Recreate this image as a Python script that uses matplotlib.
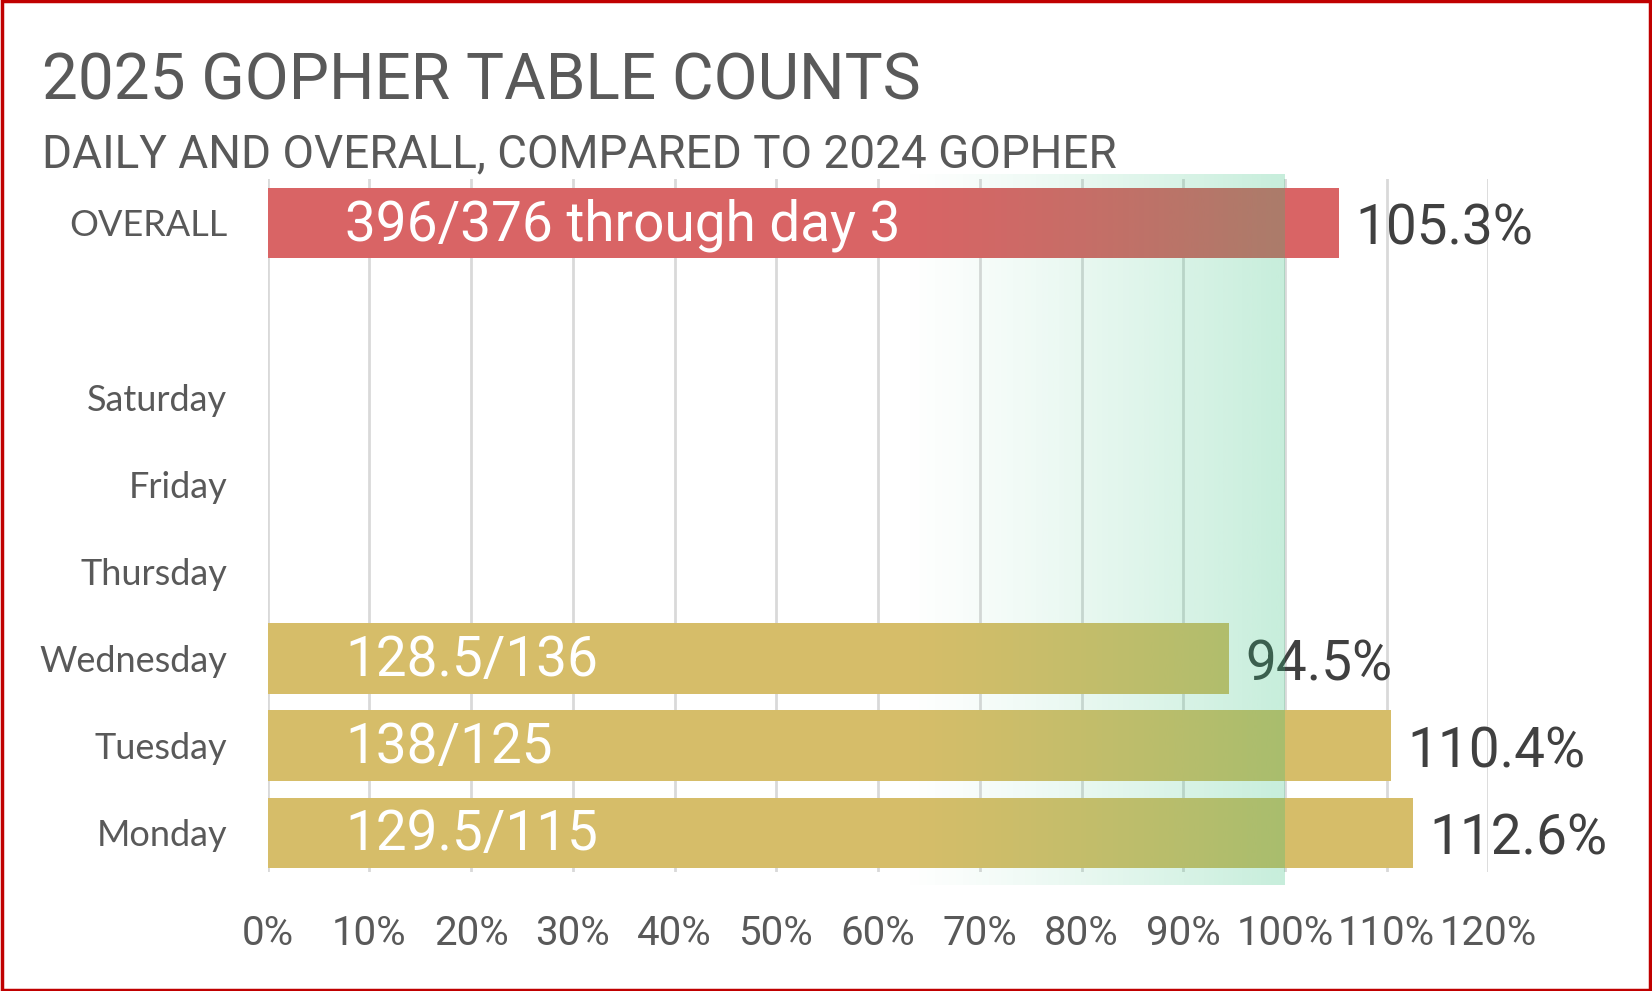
import numpy as np
import matplotlib
matplotlib.use('Agg')
import matplotlib.pyplot as plt
from matplotlib.patches import Rectangle
from matplotlib.colors import to_rgb

# ── Data ──────────────────────────────────────────────────────
categories = ['Monday', 'Tuesday', 'Wednesday', 'Thursday', 'Friday', 'Saturday', '', 'OVERALL']
pct_values = [112.6, 110.4, 94.5, None, None, None, None, 105.3]
bar_texts  = ['129.5/115', '138/125', '128.5/136', '', '', '', '', '396/376 through day 3']
pct_labels = ['112.6%', '110.4%', '94.5%', '', '', '', '', '105.3%']
x_ticks    = [0, 10, 20, 30, 40, 50, 60, 70, 80, 90, 100, 110, 120]

# ── Colours ───────────────────────────────────────────────────
RED    = '#D96465'
GOLD   = '#D6BD69'
GRID   = '#D9D9D9'
TITLE  = '#595959'
LABEL  = '#404040'
MINT   = '#2EBF7A'
BORDER = '#C00000'

fig = plt.figure(figsize=(16.52, 9.91), dpi=100, facecolor='white')
ax = fig.add_axes([0.162, 0.120, 0.739, 0.699])

ypos = np.arange(len(categories))
for y, v, t, lab in zip(ypos, pct_values, bar_texts, pct_labels):
    if v is None:
        continue
    col = RED if categories[y] == 'OVERALL' else GOLD
    ax.barh(y, v, height=0.81, color=col, zorder=2)
    ax.text(7.6, y - 0.2, t, color='white', fontsize=39.5, family='Roboto',
            va='baseline', ha='left', zorder=3)
    ax.text(v + 1.6, y - 0.25, lab, color=LABEL, fontsize=39.5, family='Roboto',
            va='baseline', ha='left', zorder=3)

# ── Target zone gradient (fades in toward 100%) ───────────────
ncol = 256
grad = np.zeros((1, ncol, 4))
grad[..., :3] = to_rgb(MINT)
grad[0, :, 3] = np.linspace(0, 1, ncol) ** 1.2 * 0.27
ax.imshow(grad, extent=(62, 100, -0.6, 7.55), aspect='auto',
          interpolation='bilinear', zorder=4, clip_on=False)

# ── Axes formatting ───────────────────────────────────────────
ax.set_xlim(0, 120)
ax.set_ylim(-0.45, 7.5)
ax.set_xticks(x_ticks)
ax.set_xticklabels([f'{t}%' for t in x_ticks], family='Roboto', fontsize=29, color=TITLE)
ax.set_yticks(ypos)
ax.set_yticklabels(categories, family='Lato', fontsize=26, color=TITLE)
ax.tick_params(axis='both', length=0)
ax.tick_params(axis='x', pad=30)
ax.tick_params(axis='y', pad=29)
ax.grid(axis='x', color=GRID, linewidth=2, zorder=1)
ax.set_axisbelow(True)
for s in ax.spines.values():
    s.set_visible(False)

# ── Titles ────────────────────────────────────────────────────
fig.text(0.0255, 0.900, '2025 GOPHER TABLE COUNTS', family='Roboto',
         fontsize=46, color=TITLE, va='baseline')
fig.text(0.0255, 0.831, 'DAILY AND OVERALL, COMPARED TO 2024 GOPHER', family='Roboto',
         fontsize=33, color=TITLE, va='baseline')

fig.patches.append(Rectangle((0.001, 0.001), 0.998, 0.998, transform=fig.transFigure,
                             fill=False, edgecolor=BORDER, linewidth=2.5))

plt.savefig('out.png', dpi=100, facecolor='white')
